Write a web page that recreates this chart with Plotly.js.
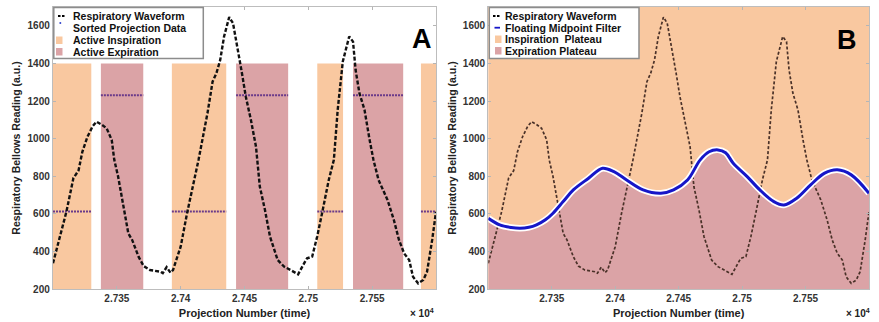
<!DOCTYPE html>
<html>
<head>
<meta charset="utf-8">
<script src="https://cdn.plot.ly/plotly-3.0.1.min.js"></script>
<style>html,body{margin:0;padding:0;background:#fff;}#chart{width:879px;height:322px;}</style>
</head>
<body>
<div id="chart"></div>
<script>
// ---------------- DATA ----------------
// Projection number, in units of 10^4
const waveX = [2.7300,2.73105,2.7316,2.7318,2.7320,2.7323,2.7327,2.7331,2.73341,2.7338,2.7342,2.7346,2.7348,2.7351,2.7355,2.7359,2.7362,2.7367,2.7371,2.7376,2.7384,2.7386,2.7389,2.7392,2.7394,2.7400,2.7405,2.7410,2.7414,2.7421,2.7425,2.7428,2.7431,2.7434,2.7438,2.7441,2.7445,2.7448,2.7451,2.7455,2.7459,2.7462,2.7466,2.7470,2.7476,2.7481,2.7486,2.7492,2.7497,2.7499,2.7503,2.7507,2.7511,2.7516,2.7520,2.7523,2.7527,2.7532,2.7535,2.7537,2.7540,2.7544,2.7548,2.7551,2.7555,2.7562,2.7567,2.7571,2.7575,2.7579,2.7582,2.7586,2.7590,2.7593,2.7597,2.7600];
// Respiratory bellows reading (a.u.)
const waveY = [337,611,790,812,830,930,1010,1065,1090,1075,1055,993,887,798,656,496,461,372,322,301,292,284,316,287,301,425,603,763,887,1135,1303,1348,1419,1543,1646,1614,1472,1348,1224,1100,957,745,621,478,354,319,301,278,340,363,372,481,611,780,887,1153,1410,1543,1516,1366,1242,1153,993,887,780,674,567,461,390,354,265,230,248,292,461,611,709];

// Panel A: active inspiration / expiration windows
const inspStart = [2.7300,2.73931,2.7507,2.75882];
const inspEnd   = [2.7330,2.74357,2.75272,2.7600];
const expStart  = [2.73375,2.74434,2.7535];
const expEnd    = [2.73707,2.74842,2.75743];
const regionTop = 1400;
const regionBottom = 200;
// Sorted projection data levels
const inspLevel = 612;
const expLevel = 1230;

// Panel B: floating midpoint filter
const midX = [2.7300,2.7309,2.7318,2.7325,2.7332,2.7338,2.7345,2.7351,2.7359,2.7367,2.7379,2.7390,2.7399,2.7409,2.7422,2.7436,2.7446,2.7457,2.7467,2.7474,2.7481,2.7487,2.7493,2.7504,2.7514,2.7525,2.7533,2.7543,2.7554,2.7565,2.7575,2.7586,2.7600];
const midY = [576,541,527,523,528,541,568,603,665,727,789,842,824,780,727,709,727,780,887,930,940,925,869,798,727,665,647,683,754,816,834,807,709];

const xTickVals = [2.735,2.74,2.745,2.75,2.755];
const xTickText = ['2.735','2.74','2.745','2.75','2.755'];
const yTickVals = [200,400,600,800,1000,1200,1400,1600];

// ---------------- STYLE ----------------
const ORANGE = '#F9C8A0';
const PINK = '#DBA3A6';
const BLUE = '#1616C8';
const PURPLE = '#6a3a8a';
const W = 879, H = 322, ML = 53, MR = 10, MT = 7, MB = 33;
const PW = W - ML - MR, PH = H - MT - MB;
const px = x => (x - ML) / PW;
const py = y => (H - MB - y) / PH;

// ---------------- TRACES ----------------
function segs(starts, ends, level) {
  const xs = [], ys = [];
  for (let i = 0; i < starts.length; i++) {
    xs.push(starts[i], ends[i], null);
    ys.push(level, level, null);
  }
  return {xs, ys};
}
const inspSeg = segs(inspStart, inspEnd, inspLevel);
const expSeg = segs(expStart, expEnd, expLevel);

const traces = [
  {x: inspSeg.xs.concat(expSeg.xs), y: inspSeg.ys.concat(expSeg.ys), xaxis: 'x', yaxis: 'y',
   mode: 'lines', line: {color: PURPLE, width: 2, dash: '2px,1px'}, showlegend: false, hoverinfo: 'skip'},
  {x: waveX, y: waveY, xaxis: 'x', yaxis: 'y', mode: 'lines',
   line: {color: '#111', width: 2.4, dash: '4px,2px'}, showlegend: false},
  {x: midX, y: midY, xaxis: 'x2', yaxis: 'y2', mode: 'lines', fill: 'tozeroy', fillcolor: PINK,
   line: {color: PINK, width: 0, shape: 'spline'}, showlegend: false, hoverinfo: 'skip'},
  {x: waveX, y: waveY, xaxis: 'x2', yaxis: 'y2', mode: 'lines',
   line: {color: '#4a3128', width: 1.7, dash: '3px,2px'}, showlegend: false},
  {x: midX, y: midY, xaxis: 'x2', yaxis: 'y2', mode: 'lines',
   line: {color: '#ffffff', width: 6.5, shape: 'spline'}, showlegend: false, hoverinfo: 'skip'},
  {x: midX, y: midY, xaxis: 'x2', yaxis: 'y2', mode: 'lines',
   line: {color: BLUE, width: 3, shape: 'spline'}, showlegend: false}
];

// ---------------- SHAPES ----------------
const shapes = [];
for (let i = 0; i < inspStart.length; i++) {
  shapes.push({type: 'rect', xref: 'x', yref: 'y', x0: inspStart[i], x1: inspEnd[i],
    y0: regionBottom, y1: regionTop, fillcolor: ORANGE, line: {width: 0}, layer: 'below'});
}
for (let i = 0; i < expStart.length; i++) {
  shapes.push({type: 'rect', xref: 'x', yref: 'y', x0: expStart[i], x1: expEnd[i],
    y0: regionBottom, y1: regionTop, fillcolor: PINK, line: {width: 0}, layer: 'below'});
}
shapes.push({type: 'rect', xref: 'x2 domain', yref: 'y2 domain', x0: 0, x1: 1, y0: 0, y1: 1,
  fillcolor: ORANGE, line: {width: 0}, layer: 'below'});

// Legend boxes (manual)
function legendBox(x0, x1) {
  shapes.push({type: 'rect', xref: 'paper', yref: 'paper', x0: px(x0), x1: px(x1), y0: py(58.5), y1: py(7.5),
    fillcolor: '#ffffff', line: {color: '#8c8c8c', width: 1.5}});
}
legendBox(53.8, 203.3);
legendBox(489.3, 639);
// symbols panel A
shapes.push({type: 'line', xref: 'paper', yref: 'paper', x0: px(58), x1: px(66), y0: py(16), y1: py(16),
  line: {color: '#000', width: 2, dash: '2.5px,1.5px'}});
shapes.push({type: 'circle', xref: 'paper', yref: 'paper', x0: px(59.3), x1: px(61.3), y0: py(24), y1: py(22),
  fillcolor: '#3344cc', line: {width: 0}});
shapes.push({type: 'rect', xref: 'paper', yref: 'paper', x0: px(56), x1: px(62.5), y0: py(44), y1: py(36.5),
  fillcolor: ORANGE, line: {width: 0}});
shapes.push({type: 'rect', xref: 'paper', yref: 'paper', x0: px(56), x1: px(62.5), y0: py(55.5), y1: py(48),
  fillcolor: PINK, line: {width: 0}});
// symbols panel B
shapes.push({type: 'line', xref: 'paper', yref: 'paper', x0: px(493), x1: px(500), y0: py(16), y1: py(16),
  line: {color: '#000', width: 2, dash: '2.5px,1.5px'}});
shapes.push({type: 'line', xref: 'paper', yref: 'paper', x0: px(494.5), x1: px(500), y0: py(27.7), y1: py(27.7),
  line: {color: BLUE, width: 1.8}});
shapes.push({type: 'rect', xref: 'paper', yref: 'paper', x0: px(495), x1: px(501.5), y0: py(43), y1: py(35.5),
  fillcolor: ORANGE, line: {width: 0}});
shapes.push({type: 'rect', xref: 'paper', yref: 'paper', x0: px(495), x1: px(501.5), y0: py(54.5), y1: py(47),
  fillcolor: PINK, line: {width: 0}});

// ---------------- ANNOTATIONS ----------------
const FONT = 'Liberation Sans, Arial, sans-serif';
const legFont = {family: FONT, size: 10.5, color: '#111', weight: 'bold'};
function legText(x, y, t) {
  return {xref: 'paper', yref: 'paper', x: px(x), y: py(y), xanchor: 'left', yanchor: 'middle',
    text: t, showarrow: false, font: legFont};
}
const annotations = [
  legText(71, 16, 'Respiratory Waveform'),
  legText(71, 28, 'Sorted Projection Data'),
  legText(71, 40, 'Active Inspiration'),
  legText(71, 51.7, 'Active Expiration'),
  legText(503, 16, 'Respiratory Waveform'),
  legText(503, 27.7, 'Floating Midpoint Filter'),
  legText(503, 39.3, 'Inspiration\u00a0 Plateau'),
  legText(503, 51, 'Expiration Plateau'),
  {xref: 'paper', yref: 'paper', x: px(422), y: py(39), xanchor: 'center', yanchor: 'middle', text: 'A',
   showarrow: false, font: {family: FONT, size: 27, color: '#000', weight: 'bold'}},
  {xref: 'paper', yref: 'paper', x: px(847), y: py(40), xanchor: 'center', yanchor: 'middle', text: 'B',
   showarrow: false, font: {family: FONT, size: 27, color: '#000', weight: 'bold'}},
  {xref: 'paper', yref: 'paper', x: px(422), y: py(313), xanchor: 'center', yanchor: 'middle', text: '\u00d7 10<sup>4</sup>',
   showarrow: false, font: {family: FONT, size: 10, color: '#222', weight: 'bold'}},
  {xref: 'paper', yref: 'paper', x: px(858), y: py(313), xanchor: 'center', yanchor: 'middle', text: '\u00d7 10<sup>4</sup>',
   showarrow: false, font: {family: FONT, size: 10, color: '#222', weight: 'bold'}}
];

// ---------------- LAYOUT ----------------
const tickFont = {family: FONT, size: 10, color: '#333', weight: 'bold'};
const titleFont = {family: FONT, size: 11, color: '#222', weight: 'bold'};
function xAxis(domain, anchor) {
  return {domain, anchor, range: [2.73, 2.76], tickvals: xTickVals, ticktext: xTickText,
    ticks: 'inside', ticklen: 3, tickcolor: '#b5b5b5', showline: true, linecolor: '#bdbdbd', linewidth: 1.2,
    mirror: 'ticks', showgrid: false, zeroline: false, tickfont: tickFont, automargin: false,
    title: {text: 'Projection Number (time)', font: titleFont, standoff: 6}};
}
function yAxis(anchor) {
  return {domain: [0, 1], anchor, range: [200, 1700], tickvals: yTickVals,
    ticks: 'inside', ticklen: 3, tickcolor: '#b5b5b5', showline: true, linecolor: '#bdbdbd', linewidth: 1.2,
    mirror: 'ticks', showgrid: false, zeroline: false, tickfont: tickFont, automargin: false,
    title: {text: 'Respiratory Bellows Reading (a.u.)', font: {family: FONT, size: 10.5, color: '#222', weight: 'bold'}, standoff: 4}};
}
const layout = {
  width: W, height: H,
  margin: {l: ML, r: MR, t: MT, b: MB, pad: 0},
  paper_bgcolor: '#ffffff', plot_bgcolor: '#ffffff',
  showlegend: false,
  xaxis: xAxis([0, (436 - ML) / PW], 'y'),
  yaxis: yAxis('x'),
  xaxis2: xAxis([(488.3 - ML) / PW, 1], 'y2'),
  yaxis2: yAxis('x2'),
  shapes, annotations
};

Plotly.newPlot('chart', traces, layout, {staticPlot: true, displayModeBar: false});
</script>
</body>
</html>
